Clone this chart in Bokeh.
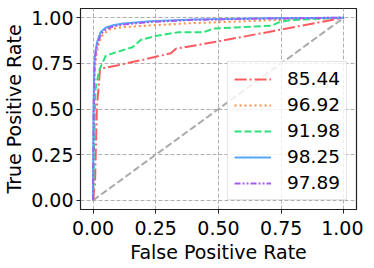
from bokeh.plotting import figure
from bokeh.models import FixedTicker, NumeralTickFormatter, Range1d, Legend, LegendItem
from bokeh.embed import file_html
from bokeh.resources import INLINE

ticks = [0.0, 0.25, 0.5, 0.75, 1.0]

red_fpr = [0, 0.008, 0.015, 0.028, 0.1, 0.2, 0.31, 0.33, 0.5, 0.75, 1.0]
red_tpr = [0, 0.1, 0.5, 0.72, 0.74, 0.77, 0.805, 0.83, 0.87, 0.935, 1.0]

orange_fpr = [0, 0.003, 0.007, 0.012, 0.02, 0.035, 0.064, 0.12, 0.23, 0.4, 0.6, 0.8, 1.0]
orange_tpr = [0, 0.45, 0.7, 0.78, 0.845, 0.9, 0.935, 0.948, 0.958, 0.97, 0.98, 0.99, 1.0]

green_fpr = [0, 0.004, 0.01, 0.024, 0.05, 0.09, 0.157, 0.19, 0.25, 0.34, 0.44, 0.48, 0.714, 0.74, 0.79, 1.0]
green_tpr = [0, 0.3, 0.61, 0.71, 0.79, 0.81, 0.838, 0.878, 0.9, 0.92, 0.92, 0.94, 0.956, 0.974, 0.987, 1.0]

blue_fpr = [0, 0.002, 0.005, 0.01, 0.017, 0.03, 0.05, 0.08, 0.12, 0.23, 0.4, 0.7, 1.0]
blue_tpr = [0, 0.5, 0.75, 0.82, 0.87, 0.92, 0.945, 0.958, 0.968, 0.98, 0.99, 0.996, 1.0]

purple_fpr = [0, 0.0025, 0.006, 0.011, 0.018, 0.032, 0.052, 0.085, 0.13, 0.24, 0.4, 0.7, 1.0]
purple_tpr = [0, 0.5, 0.74, 0.81, 0.86, 0.91, 0.938, 0.953, 0.964, 0.977, 0.988, 0.995, 1.0]

diag_x = [0, 1]
diag_y = [0, 1]

labels = ["85.44", "96.92", "91.98", "98.25", "97.89"]

p = figure(frame_width=276, frame_height=201, output_backend="svg", toolbar_location=None,
           x_range=Range1d(-0.05, 1.05), y_range=Range1d(-0.05, 1.05),
           min_border_left=75, min_border_right=7, min_border_top=8, min_border_bottom=48)

FONT = "DejaVu Sans"
p.background_fill_color = "white"
p.outline_line_color = "#222222"
p.outline_line_width = 1.2

for ax in (p.xaxis[0], p.yaxis[0]):
    ax.ticker = FixedTicker(ticks=ticks)
    ax.formatter = NumeralTickFormatter(format="0.00")
    ax.major_label_text_font = FONT
    ax.major_label_text_font_size = "19px"
    ax.major_label_text_color = "black"
    ax.axis_label_text_font = FONT
    ax.axis_label_text_font_size = "19px"
    ax.axis_label_text_font_style = "normal"
    ax.axis_label_text_color = "black"
    ax.axis_line_color = "#222222"
    ax.major_tick_line_color = "#222222"
    ax.major_tick_in = 0
    ax.major_tick_out = 4
    ax.minor_tick_line_color = None
    ax.major_label_standoff = 3
    ax.axis_label_standoff = 3

p.xaxis.major_label_standoff = 7
p.xaxis.axis_label_standoff = 3

p.xaxis.axis_label = "False Positive Rate"
p.yaxis.axis_label = "True Positive Rate"

for g in (p.xgrid[0], p.ygrid[0]):
    g.ticker = FixedTicker(ticks=ticks)
    g.grid_line_color = "#b0b0b0"
    g.grid_line_dash = "4 2"
    g.grid_line_width = 1

p.line(diag_x, diag_y, line_color="#aaaaaa", line_width=2, line_dash="7 3")

r1 = p.line(red_fpr, red_tpr, line_color="#ff5a5f", line_width=2, line_dash="12 3 2 3")
r2 = p.line(orange_fpr, orange_tpr, line_color="#ff8c42", line_width=2, line_dash="2 3")
r3 = p.line(green_fpr, green_tpr, line_color="#2ee27b", line_width=2, line_dash="7 3")
r4 = p.line(blue_fpr, blue_tpr, line_color="#55a8f8", line_width=2)
r5 = p.line(purple_fpr, purple_tpr, line_color="#a35cf2", line_width=2, line_dash="6 2 2 2 2 2")

legend = Legend(items=[LegendItem(label=l, renderers=[r]) for l, r in zip(labels, [r1, r2, r3, r4, r5])],
                location="bottom_right", margin=9, padding=6, spacing=5,
                glyph_width=37, glyph_height=20, label_height=20, label_standoff=16,
                label_text_font=FONT, label_text_font_size="18.5px", label_text_color="black",
                border_line_color="#cccccc", border_line_width=1,
                background_fill_color="white", background_fill_alpha=0.8)
p.add_layout(legend)

open("out.html", "w").write(file_html(p, INLINE))
